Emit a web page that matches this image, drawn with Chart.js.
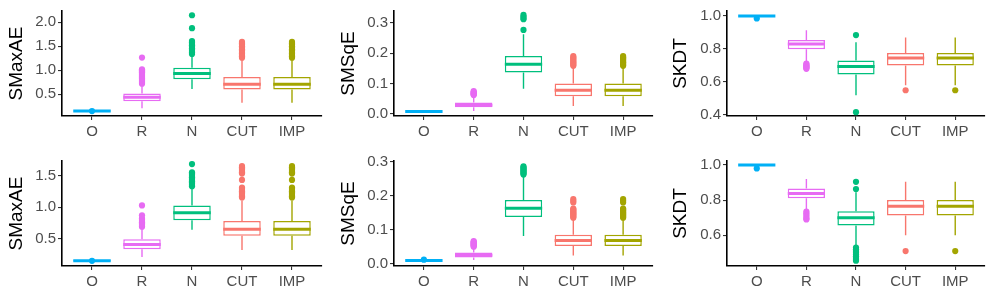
<!DOCTYPE html>
<html><head><meta charset="utf-8">
<script src="https://cdn.jsdelivr.net/npm/chart.js@4.4.1/dist/chart.umd.min.js"></script>
<style>
html,body{margin:0;padding:0;background:#fff}
body{width:996px;height:299px;position:relative;overflow:hidden}
canvas{position:absolute;display:block}
</style></head><body>
<canvas id="c0" width="330" height="150" style="left:0;top:0"></canvas>
<canvas id="c1" width="330" height="150" style="left:330px;top:0"></canvas>
<canvas id="c2" width="336" height="150" style="left:660px;top:0"></canvas>
<canvas id="c3" width="330" height="149" style="left:0;top:150px"></canvas>
<canvas id="c4" width="330" height="149" style="left:330px;top:150px"></canvas>
<canvas id="c5" width="336" height="149" style="left:660px;top:150px"></canvas>
<script>
// ---------- DATA ----------
const categories = ['O', 'R', 'N', 'CUT', 'IMP'];
const colors = ['#00B0F6', '#E76BF3', '#00BF7D', '#F8766D', '#A3A500'];

// Panel 1 (top-left)
const p1Title = 'SMaxAE';
const p1Low    = [0.135, 0.205, 0.61, 0.32, 0.32];
const p1Q1     = [0.142, 0.355, 0.81, 0.597, 0.597];
const p1Median = [0.148, 0.438, 0.93, 0.707, 0.707];
const p1Q3     = [0.154, 0.515, 1.05, 0.857, 0.857];
const p1High   = [0.16, 0.69, 1.30, 1.24, 1.24];
const p1Outliers = [
  [0.148],
  [0.72, 0.74, 0.76, 0.78, 0.80, 0.82, 0.84, 0.86, 0.88, 0.90, 0.92, 0.94, 0.96, 0.98, 1.00, 1.02, 1.265],
  [1.34, 1.37, 1.40, 1.43, 1.46, 1.49, 1.52, 1.55, 1.58, 1.61, 1.878, 2.147],
  [1.26, 1.29, 1.32, 1.35, 1.38, 1.41, 1.44, 1.47, 1.50, 1.53, 1.56, 1.59],
  [1.26, 1.29, 1.32, 1.35, 1.38, 1.41, 1.44, 1.47, 1.50, 1.53, 1.56, 1.59]
];
const p1Ticks = [0.5, 1.0, 1.5, 2.0];
const p1Range = [0.045, 2.236];

// Panel 2 (top-middle)
const p2Title = 'SMSqE';
const p2Low    = [0.006, 0.0097, 0.083, 0.026, 0.026];
const p2Q1     = [0.0075, 0.022, 0.136, 0.058, 0.058];
const p2Median = [0.008, 0.029, 0.163, 0.078, 0.078];
const p2Q3     = [0.0085, 0.038, 0.19, 0.10, 0.10];
const p2High   = [0.01, 0.058, 0.262, 0.155, 0.155];
const p2Outliers = [
  [],
  [0.062, 0.064, 0.066, 0.068, 0.070, 0.072, 0.075],
  [0.276, 0.311, 0.315, 0.32, 0.325],
  [0.158, 0.162, 0.166, 0.170, 0.174, 0.178, 0.182, 0.186, 0.19],
  [0.158, 0.162, 0.166, 0.170, 0.174, 0.178, 0.182, 0.186, 0.19]
];
const p2Ticks = [0.0, 0.1, 0.2, 0.3];
const p2Range = [-0.0065, 0.338];

// Panel 3 (top-right)
const p3Title = 'SKDT';
const p3Low    = [0.998, 0.72, 0.52, 0.58, 0.58];
const p3Q1     = [0.999, 0.798, 0.646, 0.70, 0.70];
const p3Median = [1.0, 0.83, 0.694, 0.746, 0.746];
const p3Q3     = [1.0, 0.854, 0.73, 0.776, 0.776];
const p3High   = [1.0, 0.914, 0.84, 0.87, 0.87];
const p3Outliers = [
  [0.985],
  [0.712, 0.705, 0.70, 0.695, 0.69, 0.685, 0.68],
  [0.884, 0.417],
  [0.55],
  [0.55]
];
const p3Ticks = [0.4, 0.6, 0.8, 1.0];
const p3Range = [0.394, 1.030];

// Panel 4 (bottom-left)
const p4Title = 'SMaxAE';
const p4Low    = [0.14, 0.21, 0.64, 0.32, 0.32];
const p4Q1     = [0.146, 0.334, 0.79, 0.547, 0.547];
const p4Median = [0.152, 0.41, 0.91, 0.65, 0.65];
const p4Q3     = [0.158, 0.49, 1.027, 0.78, 0.78];
const p4High   = [0.164, 0.66, 1.30, 1.10, 1.10];
const p4Outliers = [
  [0.15],
  [0.69, 0.70, 0.72, 0.74, 0.76, 0.78, 0.80, 0.82, 0.87, 1.027],
  [1.33, 1.35, 1.37, 1.39, 1.41, 1.43, 1.45, 1.47, 1.49, 1.51, 1.53, 1.55, 1.68],
  [1.15, 1.17, 1.19, 1.21, 1.23, 1.25, 1.27, 1.29, 1.31, 1.43, 1.53, 1.55, 1.57, 1.59, 1.61, 1.63, 1.65],
  [1.15, 1.17, 1.19, 1.21, 1.23, 1.25, 1.27, 1.29, 1.31, 1.43, 1.53, 1.55, 1.57, 1.59, 1.61, 1.63, 1.65]
];
const p4Ticks = [0.5, 1.0, 1.5];
const p4Range = [0.068, 1.729];

// Panel 5 (bottom-middle)
const p5Title = 'SMSqE';
const p5Low    = [0.008, 0.011, 0.081, 0.024, 0.024];
const p5Q1     = [0.009, 0.018, 0.137, 0.052, 0.052];
const p5Median = [0.0095, 0.025, 0.163, 0.068, 0.068];
const p5Q3     = [0.010, 0.033, 0.187, 0.085, 0.085];
const p5High   = [0.011, 0.047, 0.257, 0.13, 0.13];
const p5Outliers = [
  [0.0115],
  [0.050, 0.052, 0.054, 0.056, 0.058, 0.060, 0.062, 0.064, 0.066],
  [0.262, 0.265, 0.268, 0.271, 0.274, 0.277, 0.280, 0.283, 0.286],
  [0.135, 0.138, 0.141, 0.144, 0.147, 0.150, 0.153, 0.156, 0.159, 0.162, 0.18, 0.185, 0.19],
  [0.135, 0.138, 0.141, 0.144, 0.147, 0.150, 0.153, 0.156, 0.159, 0.162, 0.18, 0.185, 0.19]
];
const p5Ticks = [0.0, 0.1, 0.2, 0.3];
const p5Range = [-0.007, 0.302];

// Panel 6 (bottom-right)
const p6Title = 'SKDT';
const p6Low    = [0.997, 0.75, 0.544, 0.60, 0.60];
const p6Q1     = [0.998, 0.81, 0.655, 0.713, 0.713];
const p6Median = [1.0, 0.838, 0.70, 0.765, 0.765];
const p6Q3     = [1.0, 0.866, 0.737, 0.80, 0.80];
const p6High   = [1.0, 0.92, 0.844, 0.904, 0.904];
const p6Outliers = [
  [0.98],
  [0.735, 0.725, 0.715, 0.705, 0.695, 0.69],
  [0.863, 0.904, 0.53, 0.52, 0.51, 0.50, 0.49, 0.48, 0.47, 0.46, 0.455],
  [0.51],
  [0.51]
];
const p6Ticks = [0.6, 0.8, 1.0];
const p6Range = [0.425, 1.0225];

// ---------- LAYOUT (styles / sizes) ----------
const FONT = '"Liberation Sans", Arial, Helvetica, sans-serif';
const layouts = [
  {left: 62, right: 8,  top: 10, bottom: 34, titlePad: 5.6},
  {left: 64, right: 7,  top: 10, bottom: 34, titlePad: 7.6},
  {left: 67, right: 11, top: 10, bottom: 34, titlePad: 9.6},
  {left: 62, right: 8,  top: 10, bottom: 33, titlePad: 5.6},
  {left: 64, right: 7,  top: 10, bottom: 33, titlePad: 7.6},
  {left: 67, right: 11, top: 10, bottom: 33, titlePad: 9.6}
];

const panels = [
  {title: p1Title, lo: p1Low, q1: p1Q1, med: p1Median, q3: p1Q3, hi: p1High, out: p1Outliers, ticks: p1Ticks, range: p1Range},
  {title: p2Title, lo: p2Low, q1: p2Q1, med: p2Median, q3: p2Q3, hi: p2High, out: p2Outliers, ticks: p2Ticks, range: p2Range},
  {title: p3Title, lo: p3Low, q1: p3Q1, med: p3Median, q3: p3Q3, hi: p3High, out: p3Outliers, ticks: p3Ticks, range: p3Range},
  {title: p4Title, lo: p4Low, q1: p4Q1, med: p4Median, q3: p4Q3, hi: p4High, out: p4Outliers, ticks: p4Ticks, range: p4Range},
  {title: p5Title, lo: p5Low, q1: p5Q1, med: p5Median, q3: p5Q3, hi: p5High, out: p5Outliers, ticks: p5Ticks, range: p5Range},
  {title: p6Title, lo: p6Low, q1: p6Q1, med: p6Median, q3: p6Q3, hi: p6High, out: p6Outliers, ticks: p6Ticks, range: p6Range}
];

const boxParts = {
  id: 'boxParts',
  beforeDatasetsDraw(chart, args, opts) {
    const {ctx, scales: {x, y}} = chart;
    ctx.save();
    ctx.lineWidth = 1.4;
    ctx.lineCap = 'butt';
    opts.lo.forEach((lo, i) => {
      const px = x.getPixelForValue(i + 1);
      ctx.strokeStyle = colors[i];
      ctx.beginPath();
      ctx.moveTo(px, y.getPixelForValue(lo));
      ctx.lineTo(px, y.getPixelForValue(opts.q1[i]));
      ctx.moveTo(px, y.getPixelForValue(opts.q3[i]));
      ctx.lineTo(px, y.getPixelForValue(opts.hi[i]));
      ctx.stroke();
    });
    ctx.restore();
  },
  afterDatasetsDraw(chart, args, opts) {
    const {ctx, scales: {x, y}} = chart;
    const meta = chart.getDatasetMeta(0);
    ctx.save();
    ctx.lineWidth = 3;
    ctx.lineCap = 'butt';
    opts.med.forEach((m, i) => {
      const px = x.getPixelForValue(i + 1);
      const w = meta.data[i].width;
      const py = y.getPixelForValue(m);
      ctx.strokeStyle = colors[i];
      ctx.beginPath();
      ctx.moveTo(px - w / 2, py);
      ctx.lineTo(px + w / 2, py);
      ctx.stroke();
    });
    ctx.restore();
  }
};

panels.forEach((p, k) => {
  const L = layouts[k];
  const boxData = categories.map((c, i) => ({x: i + 1, y: [p.q1[i], p.q3[i]]}));
  const outData = [];
  const outColors = [];
  p.out.forEach((arr, i) => arr.forEach(v => { outData.push({x: i + 1, y: v}); outColors.push(colors[i]); }));
  new Chart(document.getElementById('c' + k), {
    type: 'bar',
    data: {
      datasets: [
        {
          type: 'bar',
          data: boxData,
          backgroundColor: '#FFFFFF',
          borderColor: colors,
          borderWidth: 1.5,
          borderSkipped: false,
          barPercentage: 0.75,
          categoryPercentage: 1.0
        },
        {
          type: 'scatter',
          data: outData,
          pointRadius: 3.1,
          pointBackgroundColor: outColors,
          pointBorderWidth: 0,
          pointBorderColor: outColors
        }
      ]
    },
    options: {
      responsive: false,
      animation: false,
      events: [],
      layout: {padding: {left: 0, right: L.right, top: L.top, bottom: 0}},
      plugins: {
        legend: {display: false},
        tooltip: {enabled: false},
        boxParts: {lo: p.lo, q1: p.q1, q3: p.q3, hi: p.hi, med: p.med}
      },
      scales: {
        x: {
          type: 'linear',
          offset: false,
          min: 0.4, max: 5.6,
          afterBuildTicks: s => { s.ticks = categories.map((c, i) => ({value: i + 1})); },
          afterFit: s => { s.height = L.bottom; },
          ticks: {
            callback: v => categories[Math.round(v) - 1],
            color: '#4D4D4D',
            font: {family: FONT, size: 15},
            padding: 3,
            autoSkip: false,
            maxRotation: 0
          },
          grid: {display: true, offset: false, drawOnChartArea: false, drawTicks: true, tickLength: 4, color: '#333333', lineWidth: 1.1},
          border: {display: true, color: '#000000', width: 1.6}
        },
        y: {
          type: 'linear',
          min: p.range[0], max: p.range[1],
          afterBuildTicks: s => { s.ticks = p.ticks.map(v => ({value: v})); },
          afterFit: s => { s.width = L.left; },
          ticks: {
            callback: v => Number(v).toFixed(1),
            color: '#4D4D4D',
            font: {family: FONT, size: 15},
            padding: 2
          },
          grid: {display: true, drawOnChartArea: false, drawTicks: true, tickLength: 4, color: '#333333', lineWidth: 1.1},
          border: {display: true, color: '#000000', width: 1.6},
          title: {
            display: true,
            text: p.title,
            color: '#000000',
            font: {family: FONT, size: 19},
            padding: {top: L.titlePad, bottom: 0}
          }
        }
      }
    },
    plugins: [boxParts]
  });
});
</script>
</body></html>
